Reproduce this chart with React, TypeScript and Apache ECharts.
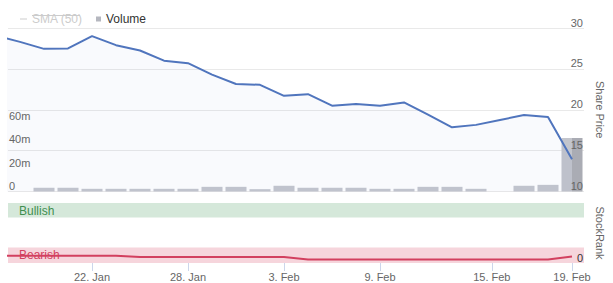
import React, { useEffect, useRef } from "react";
import * as echarts from "echarts";

// Trading days shown (index = position on the ordinal x axis)
const dates = [
  "18 Jan", "19 Jan", "20 Jan", "21 Jan", "22 Jan", "25 Jan", "26 Jan", "27 Jan", "28 Jan", "29 Jan",
  "1 Feb", "2 Feb", "3 Feb", "4 Feb", "5 Feb", "8 Feb", "9 Feb", "10 Feb", "11 Feb", "12 Feb",
  "15 Feb", "16 Feb", "17 Feb", "18 Feb", "19 Feb",
];
const sharePrice = [
  29.05, 28.3, 27.45, 27.5, 29.0, 27.9, 27.25, 26.0, 25.7, 24.3,
  23.15, 23.05, 21.7, 21.9, 20.5, 20.7, 20.5, 20.9, 19.4, 17.85,
  18.15, 18.75, 19.35, 19.1, 13.95,
];
// volume in millions
const volume: (number | null)[] = [
  null, null, 3.2, 3.2, 2.3, 2.3, 2.3, 2.3, 2.3, 4.0,
  4.0, 2.0, 4.9, 3.2, 3.2, 3.2, 2.3, 2.3, 4.0, 4.0,
  2.3, null, 4.9, 5.7, 45.9,
];
const stockRank = [
  12, 12, 12, 12, 12, 12, 10, 10, 10, 10,
  10, 10, 10, 6, 6, 6, 6, 6, 6, 6,
  6, 6, 6, 6, 11,
];
const tickLabels = ["22. Jan", "28. Jan", "3. Feb", "9. Feb", "15. Feb", "19. Feb"];
const tickPositions = [4, 8, 12, 16, 20.66, 24];
const priceRange = [10, 30];
const priceInterval = 5;
const volumeTicks = [0, 20, 40, 60];
const rankTicks = [0];
const bullishBand = [76, 100];
const bearishBand = [0, 26];

const FONT = '"Liberation Sans", Arial, sans-serif';

export default function App() {
  const ref = useRef<HTMLDivElement>(null);
  useEffect(() => {
    if (!ref.current) return;
    const chart = echarts.init(ref.current, null, { renderer: "svg" });
    const last = volume.length - 1;
    const volData: any[] = [];
    volume.forEach((v, i) => {
      if (v == null) return;
      if (i === last) {
        volData.push({
          value: [i, v],
          itemStyle: {
            color: new echarts.graphic.LinearGradient(0, 0, 1, 0, [
              { offset: 0, color: "#c3c5cc" },
              { offset: 0.5, color: "#c3c5cc" },
              { offset: 0.5, color: "#aaacb4" },
              { offset: 1, color: "#aaacb4" },
            ]),
          },
        });
      } else volData.push([i, v]);
    });
    const labelStyle = { color: "#666666", fontSize: 11, fontFamily: FONT };
    const option: any = {
      animation: false,
      textStyle: { fontFamily: FONT },
      legend: [
        {
          left: 15,
          top: 8,
          itemWidth: 7,
          itemHeight: 1,
          icon: "rect",
          inactiveColor: "#cccccc",
          selected: { "SMA (50)": false },
          data: [{ name: "SMA (50)" }],
          textStyle: { fontSize: 12, fontFamily: FONT, color: "#333" },
        },
        {
          left: 91,
          top: 8,
          itemWidth: 5,
          itemHeight: 5,
          icon: "rect",
          data: [{ name: "Volume", itemStyle: { color: "#b5b7bf" } }],
          textStyle: { fontSize: 12, fontFamily: FONT, color: "#333" },
        },
      ],
      graphic: [
        {
          type: "line",
          shape: { x1: 32, y1: 15.5, x2: 80, y2: 15.5 },
          style: { stroke: "#cccccc", lineWidth: 1 },
          silent: true,
          z: 10,
        },
      ],
      grid: [
        { left: 8, right: 16, top: 28, height: 163.5 },
        { left: 8, right: 16, top: 203, height: 60 },
      ],
      xAxis: [
        {
          type: "value",
          gridIndex: 0,
          min: 0.5,
          max: 24.5,
          show: false,
          splitLine: { show: false },
        },
        {
          type: "value",
          gridIndex: 1,
          min: 0.5,
          max: 24.5,
          splitLine: { show: false },
          axisLine: { show: false },
          axisTick: {
            show: true,
            customValues: tickPositions,
            length: 8,
            lineStyle: { color: "#ccd6eb" },
          },
          axisLabel: {
            customValues: tickPositions,
            margin: 8,
            ...labelStyle,
            formatter: (v: number) => {
              const k = tickPositions.findIndex((p) => Math.abs(p - v) < 1e-6);
              return k >= 0 ? tickLabels[k] : "";
            },
          },
        },
      ],
      yAxis: [
        {
          // price axis: grid lines (below the series)
          type: "value",
          gridIndex: 0,
          position: "right",
          min: priceRange[0],
          max: priceRange[1],
          interval: priceInterval,
          axisLine: { show: false },
          axisTick: { show: false },
          axisLabel: { show: false },
          splitLine: { lineStyle: { color: "#e9e9e9" } },
        },
        {
          type: "value",
          gridIndex: 0,
          position: "left",
          z: 10,
          min: 0,
          max: 140,
          interval: 20,
          axisLine: { show: false },
          axisTick: { show: false },
          splitLine: { show: false },
          axisLabel: {
            inside: true,
            margin: 1,
            verticalAlign: "bottom",
            customValues: volumeTicks,
            ...labelStyle,
            formatter: (v: number) => (v === 0 ? "0" : v + "m"),
          },
        },
        {
          type: "value",
          gridIndex: 1,
          position: "right",
          z: 10,
          min: 0,
          max: 100,
          name: "StockRank",
          nameLocation: "middle",
          nameRotate: -90,
          nameGap: 10,
          nameTextStyle: labelStyle,
          axisLine: { show: false },
          axisTick: { show: false },
          splitLine: { show: false },
          axisLabel: {
            inside: true,
            margin: 1,
            verticalAlign: "bottom",
            customValues: rankTicks,
            ...labelStyle,
            color: "#333333",
          },
        },
        {
          // price axis: labels and title (above the series)
          type: "value",
          gridIndex: 0,
          position: "right",
          z: 10,
          min: priceRange[0],
          max: priceRange[1],
          interval: priceInterval,
          name: "Share Price",
          nameLocation: "middle",
          nameRotate: -90,
          nameGap: 10,
          nameTextStyle: labelStyle,
          axisLine: { show: false },
          axisTick: { show: false },
          splitLine: { show: false },
          axisLabel: {
            inside: true,
            margin: 1,
            verticalAlign: "bottom",
            ...labelStyle,
          },
        },
      ],
      series: [
        {
          name: "SMA (50)",
          type: "line",
          xAxisIndex: 0,
          yAxisIndex: 0,
          data: [],
          itemStyle: { color: "#cccccc" },
          showSymbol: false,
        },
        {
          name: "Volume",
          type: "bar",
          xAxisIndex: 0,
          yAxisIndex: 1,
          barWidth: 21,
          z: 2,
          itemStyle: { color: "#c5c7ce" },
          data: volData,
        },
        {
          name: "Share Price",
          type: "line",
          xAxisIndex: 0,
          yAxisIndex: 0,
          z: 3,
          showSymbol: false,
          lineStyle: { color: "#5075bd", width: 2 },
          itemStyle: { color: "#5075bd" },
          areaStyle: { color: "rgba(70,110,190,0.045)", origin: "start" },
          data: sharePrice.map((v, i) => [i, v]),
        },
        {
          name: "StockRank",
          type: "line",
          xAxisIndex: 1,
          yAxisIndex: 2,
          showSymbol: false,
          z: 3,
          lineStyle: { color: "#d2405f", width: 2 },
          itemStyle: { color: "#d2405f" },
          data: stockRank.map((v, i) => [i, v]),
          markArea: {
            silent: true,
            data: [
              [
                {
                  yAxis: bullishBand[0],
                  itemStyle: { color: "#d5e8da" },
                  label: {
                    show: true,
                    formatter: "Bullish",
                    position: [11, 2],
                    color: "#3f8f4f",
                    fontSize: 12,
                    fontFamily: FONT,
                  },
                },
                { yAxis: bullishBand[1] },
              ],
              [
                {
                  yAxis: bearishBand[0],
                  itemStyle: { color: "#f6d5dc" },
                  label: {
                    show: true,
                    formatter: "Bearish",
                    position: [11, 2],
                    color: "#d2405f",
                    fontSize: 12,
                    fontFamily: FONT,
                  },
                },
                { yAxis: bearishBand[1] },
              ],
            ],
          },
        },
      ],
    };
    chart.setOption(option);
    return () => chart.dispose();
  }, []);
  return (
    <div
      ref={ref}
      style={{ position: "fixed", left: 0, top: 0, width: 613, height: 283, background: "#fff" }}
    />
  );
}
